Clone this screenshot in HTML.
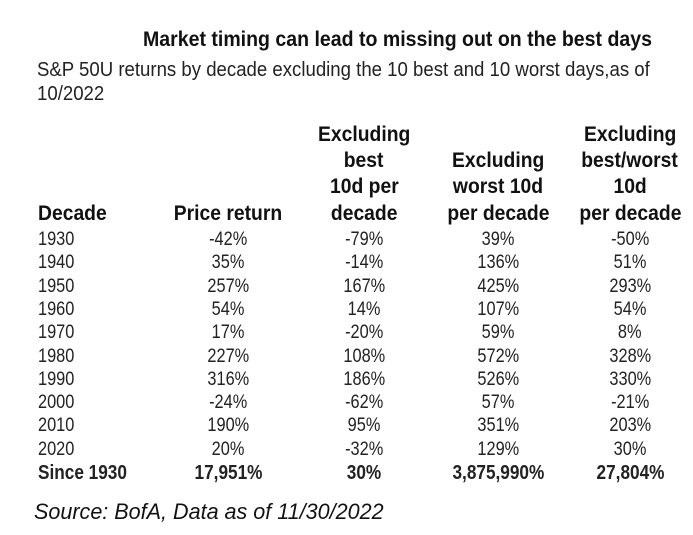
<!DOCTYPE html>
<html><head><meta charset="utf-8"><style>
body{margin:0;width:693px;height:535px;background:#fff;overflow:hidden;position:relative;font-family:"Liberation Sans",sans-serif;color:#111}
.c{position:absolute;width:240px;text-align:center;white-space:nowrap;line-height:1}
.c span,.l span{display:inline-block;transform:scaleX(.82);}
.c span{transform-origin:center}
.l{position:absolute;white-space:nowrap;line-height:1}
.l span{transform-origin:left}
.b{font-weight:bold}
.d{font-size:19px;color:#222}
.d span{transform:scaleX(.86)}
.h{font-size:21px;font-weight:bold}
.h span{transform:scaleX(.92)}
</style></head><body>
<div class="l b" style="left:143px;top:29px;font-size:21px"><span style="transform:scaleX(.93)">Market timing can lead to missing out on the best days</span></div>
<div class="l" style="left:37px;top:60px;font-size:20px;color:#222"><span style="transform:scaleX(.93)">S&amp;P 50U returns by decade excluding the 10 best and 10 worst days,as of</span></div>
<div class="l" style="left:37px;top:84px;font-size:20px;color:#222"><span style="transform:scaleX(.93)">10/2022</span></div>

<div class="c h" style="left:244px;top:124px"><span>Excluding</span></div>
<div class="c h" style="left:244px;top:150px"><span>best</span></div>
<div class="c h" style="left:244px;top:176px"><span>10d per</span></div>
<div class="c h" style="left:244px;top:203px"><span>decade</span></div>
<div class="c h" style="left:378px;top:150px"><span>Excluding</span></div>
<div class="c h" style="left:378px;top:176px"><span>worst 10d</span></div>
<div class="c h" style="left:378px;top:203px"><span>per decade</span></div>
<div class="c h" style="left:510px;top:124px"><span>Excluding</span></div>
<div class="c h" style="left:510px;top:150px"><span>best/worst</span></div>
<div class="c h" style="left:510px;top:176px"><span>10d</span></div>
<div class="c h" style="left:510px;top:203px"><span>per decade</span></div>
<div class="l h" style="left:38px;top:203px"><span>Decade</span></div>
<div class="c h" style="left:108px;top:203px"><span>Price return</span></div>

<div id="rows"></div>
<script>
var d=[["1930","-42%","-79%","39%","-50%"],["1940","35%","-14%","136%","51%"],["1950","257%","167%","425%","293%"],["1960","54%","14%","107%","54%"],["1970","17%","-20%","59%","8%"],["1980","227%","108%","572%","328%"],["1990","316%","186%","526%","330%"],["2000","-24%","-62%","57%","-21%"],["2010","190%","95%","351%","203%"],["2020","20%","-32%","129%","30%"],["Since 1930","17,951%","30%","3,875,990%","27,804%"]];
var cx=[228,364,498,630],h="";
d.forEach(function(r,i){var y=230+i*23.3,bold=i==10;var cls=bold?"b":"";var fs=bold?"font-size:20px;":"";
h+='<div class="l d '+cls+'" style="'+fs+'left:38px;top:'+y+'px"><span>'+r[0]+'</span></div>';
for(var j=0;j<4;j++)h+='<div class="c d '+cls+'" style="'+fs+'left:'+(cx[j]-120)+'px;top:'+y+'px"><span>'+r[j+1]+'</span></div>';});
document.getElementById("rows").innerHTML=h;
</script>
<div class="l" style="left:34px;top:501px;font-size:22px;font-style:italic;color:#111"><span style="transform:scaleX(.98)">Source: BofA, Data as of 11/30/2022</span></div>
</body></html>
